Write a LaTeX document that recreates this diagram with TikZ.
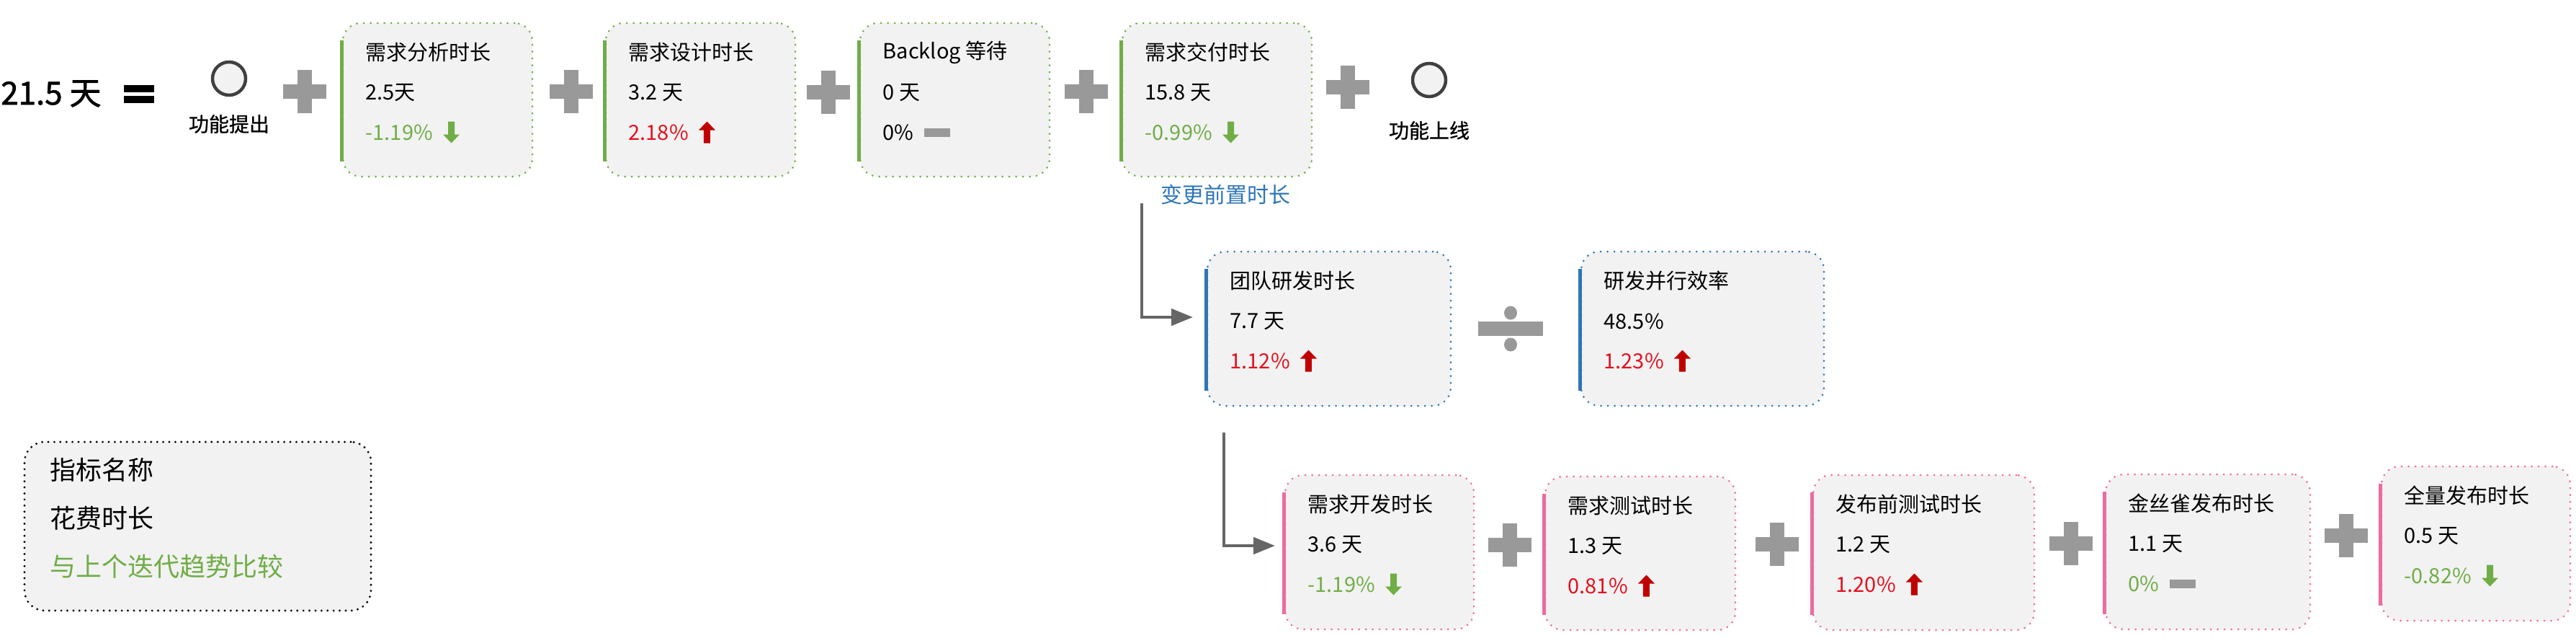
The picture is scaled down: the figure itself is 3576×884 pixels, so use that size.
\documentclass[tikz,border=0pt]{standalone}
\usepackage{fontspec}
\setmainfont{Noto Sans CJK SC}
\newfontfamily\heavyfont[FakeBold=1.6]{Noto Sans CJK SC}
\newfontfamily\medfont[FakeBold=0.8]{Noto Sans CJK SC}
\usetikzlibrary{fit,arrows.meta}
\definecolor{mgreen}{HTML}{70AD47}
\definecolor{mblue}{HTML}{2E75B6}
\definecolor{mpink}{HTML}{EE6AA0}
\definecolor{mred}{HTML}{E3101E}
\definecolor{darkred}{HTML}{C00000}
\definecolor{pgrey}{HTML}{999999}
\definecolor{boxfill}{HTML}{F2F2F2}
\definecolor{lgrey}{HTML}{666666}
\tikzset{
  mboxst/.style={fill=boxfill, rounded corners=25pt, line width=3pt, dash pattern=on 0pt off 9.5pt, line cap=round, inner sep=0pt},
  barst/.style={line width=4.5pt},
  titlest/.style={anchor=west, inner sep=0pt, font=\fontsize{29}{34}\selectfont},
  legst/.style={anchor=west, inner sep=0pt, font=\fontsize{36}{42}\selectfont},
  lblst/.style={inner sep=0pt, font=\medfont\fontsize{28}{32}\selectfont},
  elbow/.style={draw=lgrey, line width=4.5pt, -{Triangle[length=30pt,width=23pt]}},
  plusst/.style={fill=pgrey},
  circst/.style={circle, draw=black!75, fill=boxfill, line width=4.5pt, minimum size=46pt, inner sep=0pt}
}
% box: name, x1, y1, x2, y2, colour, title, value
\newcommand\metricbox[8]{%
  \node[mboxst, draw=#6, fit={(#2,#3) (#4,#5)}] (#1) {};
  \draw[barst, #6] ([yshift=-25pt]#1.north west) -- ([yshift=23pt]#1.south west);
  \path (#1.north west) ++(33,42) node[titlest] (#1t) {#7};
  \path (#1.north west) ++(33,98) node[titlest] (#1v) {#8};
}
% pct: box name, text, colour, kind (1=down,2=up,3=dash)
\newcommand\pctline[4]{%
  \path (#1.north west) ++(33,153) node[titlest, text=#3] (#1p) {#2};
  \coordinate (#1a) at ([xshift=14pt]#1p.east);
  \ifcase#4\or
    \fill[mgreen] (#1a) ++(7,-15) -- ++(9,0) -- ++(0,18) -- ++(7,0) -- ++(-11.5,12) -- ++(-11.5,-12) -- ++(7,0) -- cycle;
  \or
    \fill[darkred] (#1a) ++(11.5,-15) -- ++(11.5,12) -- ++(-7,0) -- ++(0,18) -- ++(-9,0) -- ++(0,-18) -- ++(-7,0) -- cycle;
  \or
    \fill[pgrey] (#1a) ++(0,-6) rectangle ++(36,12);
  \fi
}
\newcommand\plussign[3]{%
  \coordinate (#1) at (#2,#3);
  \fill[plusst] (#1) ++(-30,-10) rectangle ++(60,20);
  \fill[plusst] (#1) ++(-10,-30) rectangle ++(20,60);
}
\begin{document}
\begin{tikzpicture}[x=1pt,y=-1pt]
\useasboundingbox (0,0) rectangle (3576,884);

% total
\node[anchor=west, inner sep=0pt, font=\heavyfont\fontsize{44}{50}\selectfont] (total) at (1,130) {21.5 天};
\coordinate (eq) at (193,130.5);
\fill (eq) ++(-21,-12.5) rectangle ++(42,10);
\fill (eq) ++(-21,2.5) rectangle ++(42,10);

% start / end circles
\node[circst] (c1) at (318,109) {};
\path (c1) ++(0,63) node[lblst] (c1l) {功能提出};
\node[circst] (c2) at (1984,111) {};
\path (c2) ++(0,70) node[lblst] (c2l) {功能上线};

% top row
\plussign{p1}{423}{127}
\metricbox{b1}{476}{32}{739}{245}{mgreen}{需求分析时长}{2.5天}
\pctline{b1}{-1.19\%}{mgreen}{1}
\plussign{p2}{793}{127}
\metricbox{b2}{841}{32}{1104}{245}{mgreen}{需求设计时长}{3.2 天}
\pctline{b2}{2.18\%}{mred}{2}
\plussign{p3}{1150}{128}
\metricbox{b3}{1194}{32}{1457}{245}{mgreen}{Backlog 等待}{0 天}
\pctline{b3}{0\%}{black}{3}
\plussign{p4}{1508}{127}
\metricbox{b4}{1558}{32}{1821}{245}{mgreen}{需求交付时长}{15.8 天}
\pctline{b4}{-0.99\%}{mgreen}{1}
\plussign{p5}{1871}{121}
\node[inner sep=0pt, text=mblue, font=\fontsize{30}{34}\selectfont] (b4l) at (1701,270) {变更前置时长};

% middle row
\metricbox{b5}{1676}{349}{2014}{563}{mblue}{团队研发时长}{7.7 天}
\pctline{b5}{1.12\%}{mred}{2}
\coordinate (dv) at (2097,456);
\fill[pgrey] (dv) ++(-45,-10) rectangle ++(90,20);
\fill[pgrey] (dv) ++(0,-22) ellipse [x radius=9, y radius=9.5];
\fill[pgrey] (dv) ++(0,22) ellipse [x radius=9, y radius=9.5];
\metricbox{b6}{2195}{349}{2532}{563}{mblue}{研发并行效率}{48.5\%}
\pctline{b6}{1.23\%}{mred}{2}

% bottom row
\metricbox{b7}{1784}{659}{2046}{873}{mpink}{需求开发时长}{3.6 天}
\pctline{b7}{-1.19\%}{mgreen}{1}
\plussign{p6}{2096}{756}
\metricbox{b8}{2145}{661}{2409}{874}{mpink}{需求测试时长}{1.3 天}
\pctline{b8}{0.81\%}{mred}{2}
\plussign{p7}{2467}{755}
\metricbox{b9}{2517}{659}{2824}{874}{mpink}{发布前测试时长}{1.2 天}
\pctline{b9}{1.20\%}{mred}{2}
\plussign{p8}{2875}{754}
\metricbox{b10}{2923}{658}{3207}{873}{mpink}{金丝雀发布时长}{1.1 天}
\pctline{b10}{0\%}{mgreen}{3}
\plussign{p9}{3257}{743}
\metricbox{b11}{3306}{647}{3568}{861}{mpink}{全量发布时长}{0.5 天}
\pctline{b11}{-0.82\%}{mgreen}{1}

% connectors
\coordinate (a1s) at (1585,282);
\coordinate (a1e) at (1656,440);
\draw[elbow] (a1s) |- (a1e);
\coordinate (a2s) at (1699,600);
\coordinate (a2e) at (1770,757);
\draw[elbow] (a2s) |- (a2e);

% legend
\node[mboxst, draw=black, line width=3.2pt, dash pattern=on 0pt off 8.4pt, rounded corners=28pt, fit={(34,613) (515,847)}] (leg) {};
\node[legst] (leg1) at (69,652) {指标名称};
\node[legst] (leg2) at (69,719) {花费时长};
\node[legst, text=mgreen] (leg3) at (69,786) {与上个迭代趋势比较};
\end{tikzpicture}
\end{document}
